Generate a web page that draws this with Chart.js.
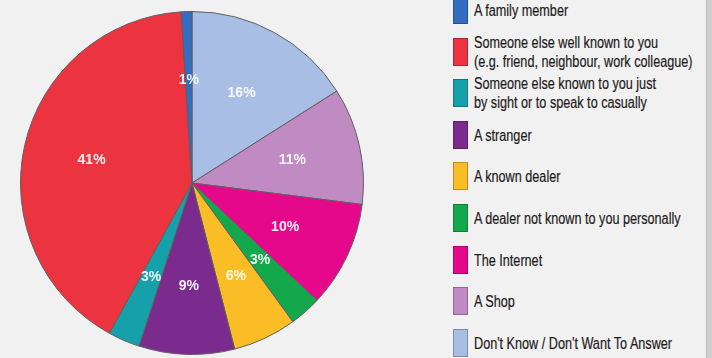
<!DOCTYPE html>
<html>
<head>
<meta charset="utf-8">
<script src="https://cdn.jsdelivr.net/npm/chart.js@4/dist/chart.umd.min.js"></script>
<style>
  html, body { margin: 0; padding: 0; }
  body { width: 712px; height: 358px; overflow: hidden; background: #f1f1f1; position: relative;
         font-family: "Liberation Sans", Arial, sans-serif; }
  #pieWrap { position: absolute; left: 20px; top: 11px; width: 344px; height: 344px; }
  #legend { position: absolute; left: 453px; top: -4px; width: 252px; }
  .item { position: relative; height: 28px; margin-bottom: 13.6px; }
  .sw { position: absolute; left: 0; top: 0; width: 15px; height: 28px; box-sizing: border-box; border: 1px solid rgba(0,0,0,0.25); }
  .tx { position: absolute; left: 21px; top: 50%; transform: translateY(-50%) scaleX(0.79); transform-origin: left center;
        font-size: 16px; line-height: 19px; color: #1e1b1c; white-space: nowrap; -webkit-text-stroke: 0.2px #1e1b1c; }
  #edge { position: absolute; left: 706px; top: 0; width: 6px; height: 358px; background: #cfcfcf; border-left: 1px solid #bdbdbd; box-sizing: border-box; }
</style>
</head>
<body>
<div id="pieWrap"><canvas id="c"></canvas></div>
<div id="legend"></div>
<div id="edge"></div>
<script>
// Data in legend order
const categories = [
  "A family member",
  "Someone else well known to you\n(e.g. friend, neighbour, work colleague)",
  "Someone else known to you just\nby sight or to speak to casually",
  "A stranger",
  "A known dealer",
  "A dealer not known to you personally",
  "The Internet",
  "A Shop",
  "Don't Know / Don't Want To Answer"
];
const percentages = [1, 41, 3, 9, 6, 3, 10, 11, 16];
const colors = ["#336dc2", "#ec3340", "#16a0a9", "#7b2a8e", "#fbbd25", "#14a84c", "#e6088a", "#c08ac3", "#a8bee4"];

// Legend (HTML)
const legendEl = document.getElementById('legend');
categories.forEach((cat, i) => {
  const item = document.createElement('div');
  item.className = 'item';
  const sw = document.createElement('div');
  sw.className = 'sw';
  sw.style.background = colors[i];
  const tx = document.createElement('div');
  tx.className = 'tx';
  cat.split('\n').forEach((line, j) => {
    if (j) tx.appendChild(document.createElement('br'));
    tx.appendChild(document.createTextNode(line));
  });
  item.appendChild(sw);
  item.appendChild(tx);
  legendEl.appendChild(item);
});

// The pie runs clockwise from 12 o'clock in reverse legend order
const order = categories.map((_, i) => categories.length - 1 - i);
const pieLabels = order.map(i => categories[i].replace('\n', ' '));
const pieData = order.map(i => percentages[i]);
const pieColors = order.map(i => colors[i]);

const sliceLabels = {
  id: 'sliceLabels',
  afterDatasetsDraw(chart) {
    const ctx = chart.ctx;
    const meta = chart.getDatasetMeta(0);
    ctx.save();
    ctx.font = 'bold 14px "Liberation Sans", Arial, sans-serif';
    ctx.fillStyle = 'rgba(255,255,255,0.92)';
    ctx.textAlign = 'center';
    ctx.textBaseline = 'middle';
    meta.data.forEach((arc, i) => {
      const p = arc.getProps(['x', 'y', 'startAngle', 'endAngle', 'outerRadius'], true);
      const mid = (p.startAngle + p.endAngle) / 2;
      const r = p.outerRadius * 0.6;
      ctx.fillText(chart.data.datasets[0].data[i] + '%', p.x + Math.cos(mid) * r, p.y + Math.sin(mid) * r);
    });
    ctx.restore();
  }
};

new Chart(document.getElementById('c'), {
  type: 'pie',
  data: {
    labels: pieLabels,
    datasets: [{
      data: pieData,
      backgroundColor: pieColors,
      borderColor: '#5f5f5f',
      borderWidth: 1
    }]
  },
  options: {
    responsive: true,
    maintainAspectRatio: false,
    animation: false,
    layout: { padding: 0 },
    plugins: {
      legend: { display: false },
      tooltip: { enabled: false }
    }
  },
  plugins: [sliceLabels]
});
</script>
</body>
</html>
